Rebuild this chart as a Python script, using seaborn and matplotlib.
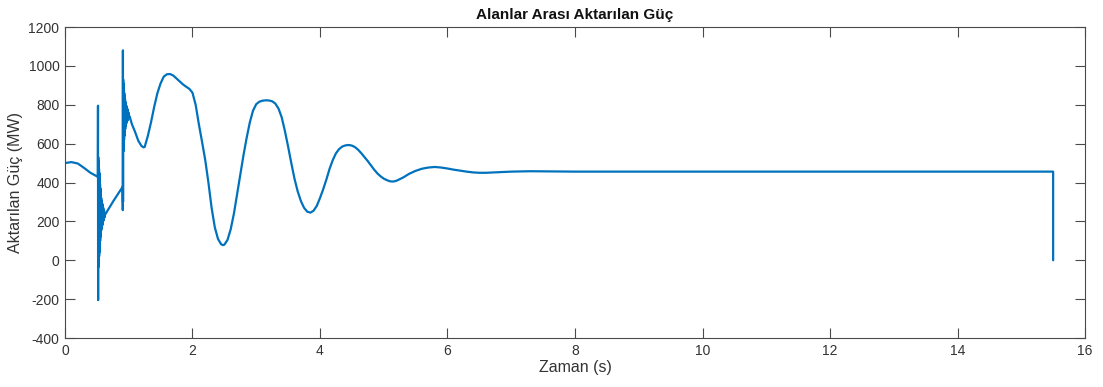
import matplotlib
matplotlib.use("Agg")
import matplotlib.pyplot as plt
import seaborn as sns
import pandas as pd

# Time (s) and transferred tie-line power (MW)
pre_fault_t = [0.0, 0.1, 0.2, 0.3, 0.4, 0.5, 0.515]
pre_fault_p = [500, 505, 498, 475, 450, 432, 428]

fault1_t = [0.518, 0.520, 0.522, 0.524, 0.526, 0.528, 0.530, 0.532, 0.534, 0.536,
            0.538, 0.540, 0.542, 0.544, 0.546, 0.548, 0.550, 0.552, 0.554, 0.556,
            0.558, 0.560, 0.563, 0.566, 0.569, 0.572, 0.575, 0.578, 0.582, 0.586,
            0.590, 0.595, 0.600, 0.606, 0.612, 0.620, 0.630]
fault1_p = [795, -205, 530, -35, 510, -20, 490, 0, 470, 20,
            450, 40, 430, 60, 410, 80, 390, 100, 370, 120,
            350, 135, 335, 150, 320, 160, 305, 170, 295, 180,
            285, 190, 270, 205, 258, 220, 235]

ramp_t = [0.76, 0.905]
ramp_p = [305, 378]

fault2_t = [0.907, 0.909, 0.911, 0.913, 0.915, 0.917, 0.919, 0.921, 0.923, 0.925,
            0.927, 0.930, 0.933, 0.936, 0.939, 0.942, 0.945, 0.948, 0.951, 0.955,
            0.959, 0.963, 0.968, 0.973, 0.978, 0.984, 0.990, 0.997, 1.005, 1.015,
            1.030]
fault2_p = [258, 1080, 300, 930, 560, 910, 580, 890, 600, 875,
            620, 860, 640, 845, 660, 830, 675, 815, 690, 805,
            700, 795, 710, 785, 718, 775, 725, 760, 735, 740,
            722]

swing_t = [1.05, 1.10, 1.15, 1.20, 1.23, 1.25, 1.30, 1.35, 1.40, 1.45,
           1.50, 1.55, 1.60, 1.65, 1.70, 1.75, 1.80, 1.85, 1.90, 1.95,
           2.00, 2.05, 2.10, 2.15, 2.20, 2.25, 2.30, 2.35, 2.40, 2.45,
           2.48, 2.50, 2.55, 2.60, 2.65, 2.70, 2.75, 2.80, 2.85, 2.90,
           2.95, 3.00, 3.05, 3.10, 3.15, 3.20, 3.25, 3.30, 3.35, 3.40,
           3.45, 3.50, 3.55, 3.60, 3.65, 3.70, 3.75, 3.80, 3.85, 3.90,
           3.95, 4.00, 4.05, 4.10, 4.15, 4.20, 4.25, 4.30, 4.35, 4.40,
           4.45, 4.50, 4.55, 4.60, 4.65, 4.70, 4.75, 4.80, 4.85, 4.90,
           4.95, 5.00, 5.05, 5.10, 5.15, 5.20, 5.30, 5.40, 5.50, 5.60,
           5.70, 5.80, 5.90, 6.00, 6.10, 6.20, 6.30, 6.40, 6.50, 6.60,
           6.80, 7.00, 7.30, 7.60, 8.00, 9.00, 10.00, 11.00, 12.00, 13.00,
           14.00, 15.00, 15.50, 15.50]
swing_p = [700, 660, 615, 588, 581, 583, 640, 710, 790, 860,
           910, 945, 957, 958, 950, 935, 920, 905, 893, 882,
           862, 800, 700, 610, 516, 400, 270, 170, 110, 82,
           78, 80, 105, 160, 240, 340, 440, 540, 630, 710,
           770, 803, 816, 821, 823, 822, 818, 806, 780, 735,
           665, 585, 500, 420, 355, 305, 270, 250, 245, 255,
           280, 320, 365, 415, 470, 515, 550, 572, 585, 591,
           593, 590, 582, 568, 550, 530, 510, 488, 466, 447,
           432, 420, 412, 406, 405, 409, 425, 445, 460, 471,
           477, 480, 477, 472, 466, 461, 456, 452, 450, 450,
           453, 456, 458, 457, 456, 456, 456, 456, 456, 456,
           456, 456, 456, 0]

t_vals = pre_fault_t + fault1_t + ramp_t + fault2_t + swing_t
p_vals = pre_fault_p + fault1_p + ramp_p + fault2_p + swing_p
df = pd.DataFrame({"Zaman": t_vals, "Guc": p_vals})

sns.set_style("white")
plt.rcParams["font.family"] = ["Liberation Sans", "DejaVu Sans"]
plt.rcParams["axes.unicode_minus"] = False

axis_grey = "#4a4a4a"
fig = plt.figure(figsize=(11.03, 3.87), dpi=100)
ax = fig.add_axes([0.0589, 0.1266, 0.9248, 0.8036])

sns.lineplot(data=df, x="Zaman", y="Guc", estimator=None, sort=False,
             color="#0072BD", linewidth=1.6, ax=ax)

ax.set_xlim(0, 16)
ax.set_ylim(-400, 1200)
ax.set_xticks(range(0, 17, 2))
ax.set_yticks(range(-400, 1201, 200))

for side in ax.spines.values():
    side.set_visible(True)
    side.set_color(axis_grey)
    side.set_linewidth(0.8)

ax.tick_params(direction="in", length=7, width=0.8, colors=axis_grey,
               labelsize=10, labelcolor="#333333",
               top=True, right=True, bottom=True, left=True, pad=4)

ax.set_xlabel("Zaman (s)", fontsize=11.5, color="#333333", labelpad=2)
ax.set_ylabel("Aktarılan Güç (MW)", fontsize=11.5, color="#333333", labelpad=4)
ax.set_title("Alanlar Arası Aktarılan Güç", fontsize=11, fontweight="bold",
             color="#111111", pad=6)

fig.savefig("out.png", dpi=100, facecolor="white")
